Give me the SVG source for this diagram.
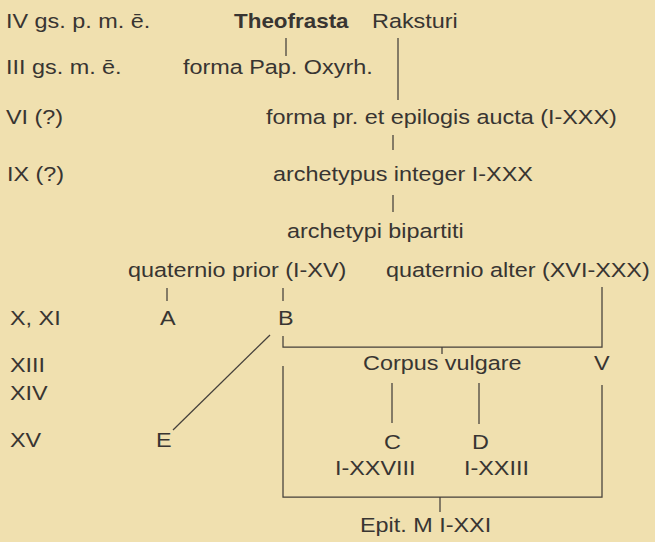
<svg xmlns="http://www.w3.org/2000/svg" width="655" height="542" viewBox="0 0 655 542">
<style>
.t{font-family:"Liberation Sans",Arial,sans-serif;font-size:19.5px;fill:#383532}
.b{font-weight:bold}
.c{stroke:#443f3a;stroke-width:1.25;fill:none}
</style>
<rect width="655" height="542" fill="#f0e0af"/>
<g id="era">
<text class="t" transform="translate(6,28) scale(1.2,1)">IV gs. p. m. ē.</text>
<text class="t" transform="translate(6,74) scale(1.2,1)">III gs. m. ē.</text>
<text class="t" transform="translate(6,124) scale(1.2,1)">VI (?)</text>
<text class="t" transform="translate(7,181) scale(1.2,1)">IX (?)</text>
<text class="t" transform="translate(10,325) scale(1.2,1)">X, XI</text>
<text class="t" transform="translate(10,372) scale(1.2,1)">XIII</text>
<text class="t" transform="translate(10,400) scale(1.2,1)">XIV</text>
<text class="t" transform="translate(10,447) scale(1.2,1)">XV</text>
</g>
<g id="theofrasta"><text class="t b" transform="translate(234,28) scale(1.15,1)">Theofrasta</text></g>
<g id="raksturi"><text class="t" transform="translate(372,28) scale(1.2,1)">Raksturi</text></g>
<g id="pap"><text class="t" transform="translate(183,74) scale(1.2,1)">forma Pap. Oxyrh.</text></g>
<g id="aucta"><text class="t" transform="translate(266,124) scale(1.2,1)">forma pr. et epilogis aucta (I-XXX)</text></g>
<g id="integer"><text class="t" transform="translate(273,181) scale(1.2,1)">archetypus integer I-XXX</text></g>
<g id="bipartiti"><text class="t" transform="translate(287,238) scale(1.2,1)">archetypi bipartiti</text></g>
<g id="prior"><text class="t" transform="translate(128,277) scale(1.2,1)">quaternio prior (I-XV)</text></g>
<g id="alter"><text class="t" transform="translate(386,277) scale(1.2,1)">quaternio alter (XVI-XXX)</text></g>
<g id="A"><text class="t" transform="translate(160,325) scale(1.2,1)">A</text></g>
<g id="B"><text class="t" transform="translate(278,325) scale(1.2,1)">B</text></g>
<g id="corpus"><text class="t" transform="translate(363,370) scale(1.2,1)">Corpus vulgare</text></g>
<g id="V"><text class="t" transform="translate(594,370) scale(1.2,1)">V</text></g>
<g id="E"><text class="t" transform="translate(156,447) scale(1.2,1)">E</text></g>
<g id="C"><text class="t" transform="translate(384,449) scale(1.2,1)">C</text>
<text class="t" transform="translate(335,475) scale(1.2,1)">I-XXVIII</text></g>
<g id="D"><text class="t" transform="translate(472,449) scale(1.2,1)">D</text>
<text class="t" transform="translate(464,475) scale(1.2,1)">I-XXIII</text></g>
<g id="epit"><text class="t" transform="translate(360,532) scale(1.2,1)">Epit. M I-XXI</text></g>
<g id="connectors" class="c">
<path class="c" d="M286,38V56"/>
<path class="c" d="M398,38V100"/>
<path class="c" d="M393,135V150"/>
<path class="c" d="M393,195V212"/>
<path class="c" d="M167,288V301"/>
<path class="c" d="M283,288V301"/>
<path class="c" d="M283,336V347H602V287"/>
<path class="c" d="M442,347V354"/>
<path class="c" d="M270,335L173,430"/>
<path class="c" d="M283,366V497H602V385"/>
<path class="c" d="M392,383V423"/>
<path class="c" d="M479,383V424"/>
<path class="c" d="M440,497V512"/>
</g>
</svg>
